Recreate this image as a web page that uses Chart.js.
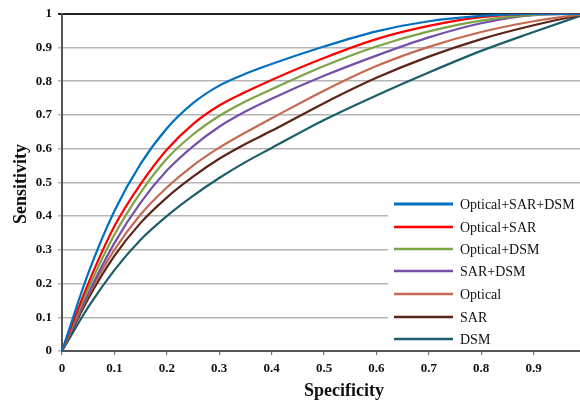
<!DOCTYPE html>
<html>
<head>
<meta charset="utf-8">
<script src="https://cdn.jsdelivr.net/npm/chart.js@4.4.0/dist/chart.umd.min.js"></script>
<style>
    html, body { margin: 0; padding: 0; background: #fff; overflow: hidden; }
    #wrap { position: relative; width: 600px; height: 405px; }
</style>
</head>
<body>
<div id="wrap"><canvas id="roc-chart" width="600" height="405"></canvas></div>
<script>
// /------------- ROC curve data -------------/
const specificity = [0, 0.05, 0.1, 0.15, 0.2, 0.25, 0.3, 0.35, 0.4, 0.5, 0.6, 0.7, 0.8, 0.9, 1];

const opticalSarDsm = [0, 0.23, 0.415, 0.555, 0.66, 0.735, 0.787, 0.822, 0.851, 0.903, 0.948, 0.978, 0.994, 1, 1];
const opticalSar    = [0, 0.2, 0.37, 0.495, 0.597, 0.673, 0.728, 0.768, 0.804, 0.869, 0.925, 0.964, 0.99, 1, 1];
const opticalDsm    = [0, 0.185, 0.345, 0.47, 0.57, 0.642, 0.697, 0.74, 0.776, 0.845, 0.903, 0.948, 0.98, 0.997, 1];
const sarDsm        = [0, 0.17, 0.32, 0.44, 0.535, 0.607, 0.665, 0.71, 0.748, 0.816, 0.876, 0.93, 0.972, 0.996, 1];
const optical       = [0, 0.165, 0.3, 0.405, 0.485, 0.55, 0.603, 0.648, 0.69, 0.772, 0.845, 0.902, 0.946, 0.978, 1];
const sar           = [0, 0.155, 0.282, 0.38, 0.455, 0.517, 0.57, 0.614, 0.653, 0.735, 0.81, 0.873, 0.925, 0.966, 1];
const dsm           = [0, 0.13, 0.24, 0.33, 0.4, 0.46, 0.513, 0.56, 0.602, 0.685, 0.758, 0.826, 0.89, 0.946, 1];

const seriesLabels = ['Optical+SAR+DSM', 'Optical+SAR', 'Optical+DSM', 'SAR+DSM', 'Optical', 'SAR', 'DSM'];
const seriesValues = [opticalSarDsm, opticalSar, opticalDsm, sarDsm, optical, sar, dsm];
const seriesColors = ['#0070c0', '#ff0000', '#7ba444', '#7550a8', '#c46a52', '#5a2418', '#1d5e6a'];

const tickLabels = ['0', '0.1', '0.2', '0.3', '0.4', '0.5', '0.6', '0.7', '0.8', '0.9', '1'];

const serif = "'Liberation Serif', 'Times New Roman', serif";

// /------------- Build datasets -------------/
const datasets = seriesLabels.map((label, i) => ({
    label: label,
    data: specificity.map((x, j) => ({ x: x, y: seriesValues[i][j] })),
    borderColor: seriesColors[i],
    backgroundColor: seriesColors[i],
    borderWidth: 2.2,
    pointRadius: 0,
    cubicInterpolationMode: 'monotone',
    fill: false,
}));

// /------------- Legend box inside the plot -------------/
const boxLegend = {
    id: 'boxLegend',
    afterDraw(chart) {
        const ctx = chart.ctx;
        const rows = [204, 227, 249, 271, 294, 317, 339];
        ctx.save();
        ctx.fillStyle = '#fff';
        ctx.fillRect(388, 192, 200, 157);
        ctx.font = '14px ' + serif;
        ctx.textBaseline = 'middle';
        ctx.textAlign = 'left';
        chart.data.datasets.forEach((ds, i) => {
            ctx.strokeStyle = ds.borderColor;
            ctx.lineWidth = i === 0 ? 3 : 2.6;
            ctx.beginPath();
            ctx.moveTo(394, rows[i]);
            ctx.lineTo(453, rows[i]);
            ctx.stroke();
            ctx.fillStyle = '#111';
            ctx.fillText(ds.label, 460, rows[i] + 1);
        });
        ctx.restore();
    }
};

// /------------- Axis titles -------------/
const axisTitles = {
    id: 'axisTitles',
    afterDraw(chart) {
        const ctx = chart.ctx;
        ctx.save();
        ctx.fillStyle = '#111';
        ctx.font = 'bold 18px ' + serif;
        ctx.textAlign = 'center';
        ctx.textBaseline = 'middle';
        ctx.fillText('Specificity', 344, 391);
        ctx.translate(21, 184);
        ctx.rotate(-Math.PI / 2);
        ctx.fillText('Sensitivity', 0, 0);
        ctx.restore();
    }
};

const rocChart = new Chart(document.querySelector('#roc-chart').getContext('2d'), {
    type: 'line',
    data: { datasets: datasets },
    options: {
        responsive: false,
        animation: false,
        layout: {
            padding: { left: 0, right: 14, top: 11, bottom: 0 }
        },
        scales: {
            x: {
                type: 'linear',
                min: 0,
                max: 1,
                afterFit: (s) => { s.height = 54; },
                ticks: {
                    stepSize: 0.1,
                    padding: 6,
                    color: '#111',
                    font: { family: serif, size: 13, weight: 'bold' },
                    maxRotation: 0,
                    callback: (v) => tickLabels[Math.round(v * 10)]
                },
                grid: {
                    drawOnChartArea: false,
                    tickLength: 4,
                    color: '#777',
                    lineWidth: 1.2
                },
                border: { color: '#555', width: 2 }
            },
            y: {
                min: 0,
                max: 1,
                afterFit: (s) => { s.width = 62; },
                ticks: {
                    stepSize: 0.1,
                    padding: 6,
                    color: '#111',
                    font: { family: serif, size: 13, weight: 'bold' },
                    callback: (v) => tickLabels[Math.round(v * 10)]
                },
                grid: {
                    tickLength: 4,
                    color: (c) => (c.tick && c.tick.value === 1 ? '#222' : '#b5b5b5'),
                    lineWidth: (c) => (c.tick && c.tick.value === 1 ? 2 : 1.5)
                },
                border: { color: '#555', width: 2 }
            }
        },
        plugins: {
            legend: { display: false },
            tooltip: { enabled: false }
        }
    },
    plugins: [boxLegend, axisTitles]
});
</script>
</body>
</html>
